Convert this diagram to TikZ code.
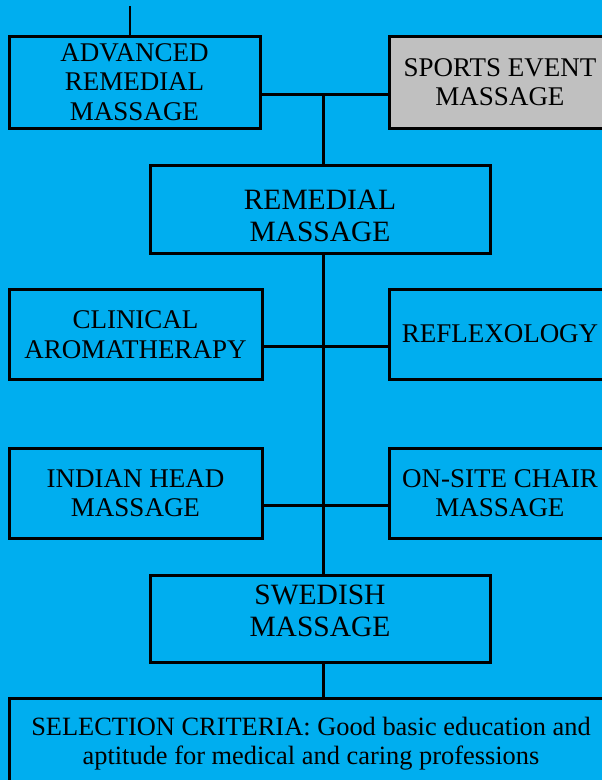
\documentclass[tikz,border=0pt]{standalone}
\usepackage{fontspec}
\setmainfont{Liberation Serif}
\usetikzlibrary{positioning}
\definecolor{skyback}{RGB}{0,174,239}
\definecolor{boxgrey}{RGB}{192,192,192}
\tikzstyle{course} = [rectangle, draw=black, line width=3pt, align=center, inner sep=2pt, font=\fontsize{27}{29.5}\selectfont]
\tikzstyle{bigcourse} = [course, minimum width=340pt, minimum height=88pt, font=\fontsize{29.5}{32}\selectfont]
\tikzstyle{sidecourse} = [course, minimum width=253pt, minimum height=90pt]
\tikzstyle{link} = [line width=3pt]

\begin{document}
\begin{tikzpicture}[x=1pt, y=-1pt]
			\fill[skyback] (0,0) rectangle (602,780);
			\clip (0,0) rectangle (602,780);
			\useasboundingbox (0,0) rectangle (602,780);
			\node (adv) [course, minimum width=251pt, minimum height=92pt] at (134.5,82) {ADVANCED\\REMEDIAL\\MASSAGE};
			\node (sports) [course, fill=boxgrey, minimum width=222pt, minimum height=92pt] at (500,82) {SPORTS EVENT\\MASSAGE};
			\node (remedial) [bigcourse, text height=66pt] at (320,209) {REMEDIAL\\MASSAGE};
			\node (clinical) [sidecourse] at (135.5,334.5) {CLINICAL\\AROMATHERAPY};
			\node (reflex) [sidecourse, minimum width=222pt] at (500,334) {REFLEXOLOGY};
			\node (indian) [sidecourse] at (135.5,493) {INDIAN HEAD\\MASSAGE};
			\node (onsite) [sidecourse, minimum width=222pt] at (500,493) {ON-SITE CHAIR\\MASSAGE};
			\node (swedish) [bigcourse, minimum height=87pt, text depth=16pt] at (320,618.5) {SWEDISH\\MASSAGE};
			\node (criteria) [course, minimum width=604pt, minimum height=85pt, text depth=0pt, font=\fontsize{26.4}{29}\selectfont] at (311,740.5) {SELECTION CRITERIA: Good basic education and\\aptitude for medical and caring professions};
			
			\coordinate (top) at (130,6);
			\coordinate (j1) at (323,94);
			\coordinate (j2) at (323,346);
			\coordinate (j3) at (323,505);
			
			%lines
			\draw [line width=1.2pt] (top) -- (top |- adv.north);
			\draw [link] (adv.east |- j1) -- (sports.west |- j1);
			\draw [link] (j1) -- (remedial.north -| j1);
			\draw [link] (remedial.south -| j1) -- (swedish.north -| j1);
			\draw [link] (clinical.east |- j2) -- (reflex.west |- j2);
			\draw [link] (indian.east |- j3) -- (onsite.west |- j3);
			\draw [link] (swedish.south -| j1) -- (criteria.north -| j1);
			
		\end{tikzpicture}
\end{document}
